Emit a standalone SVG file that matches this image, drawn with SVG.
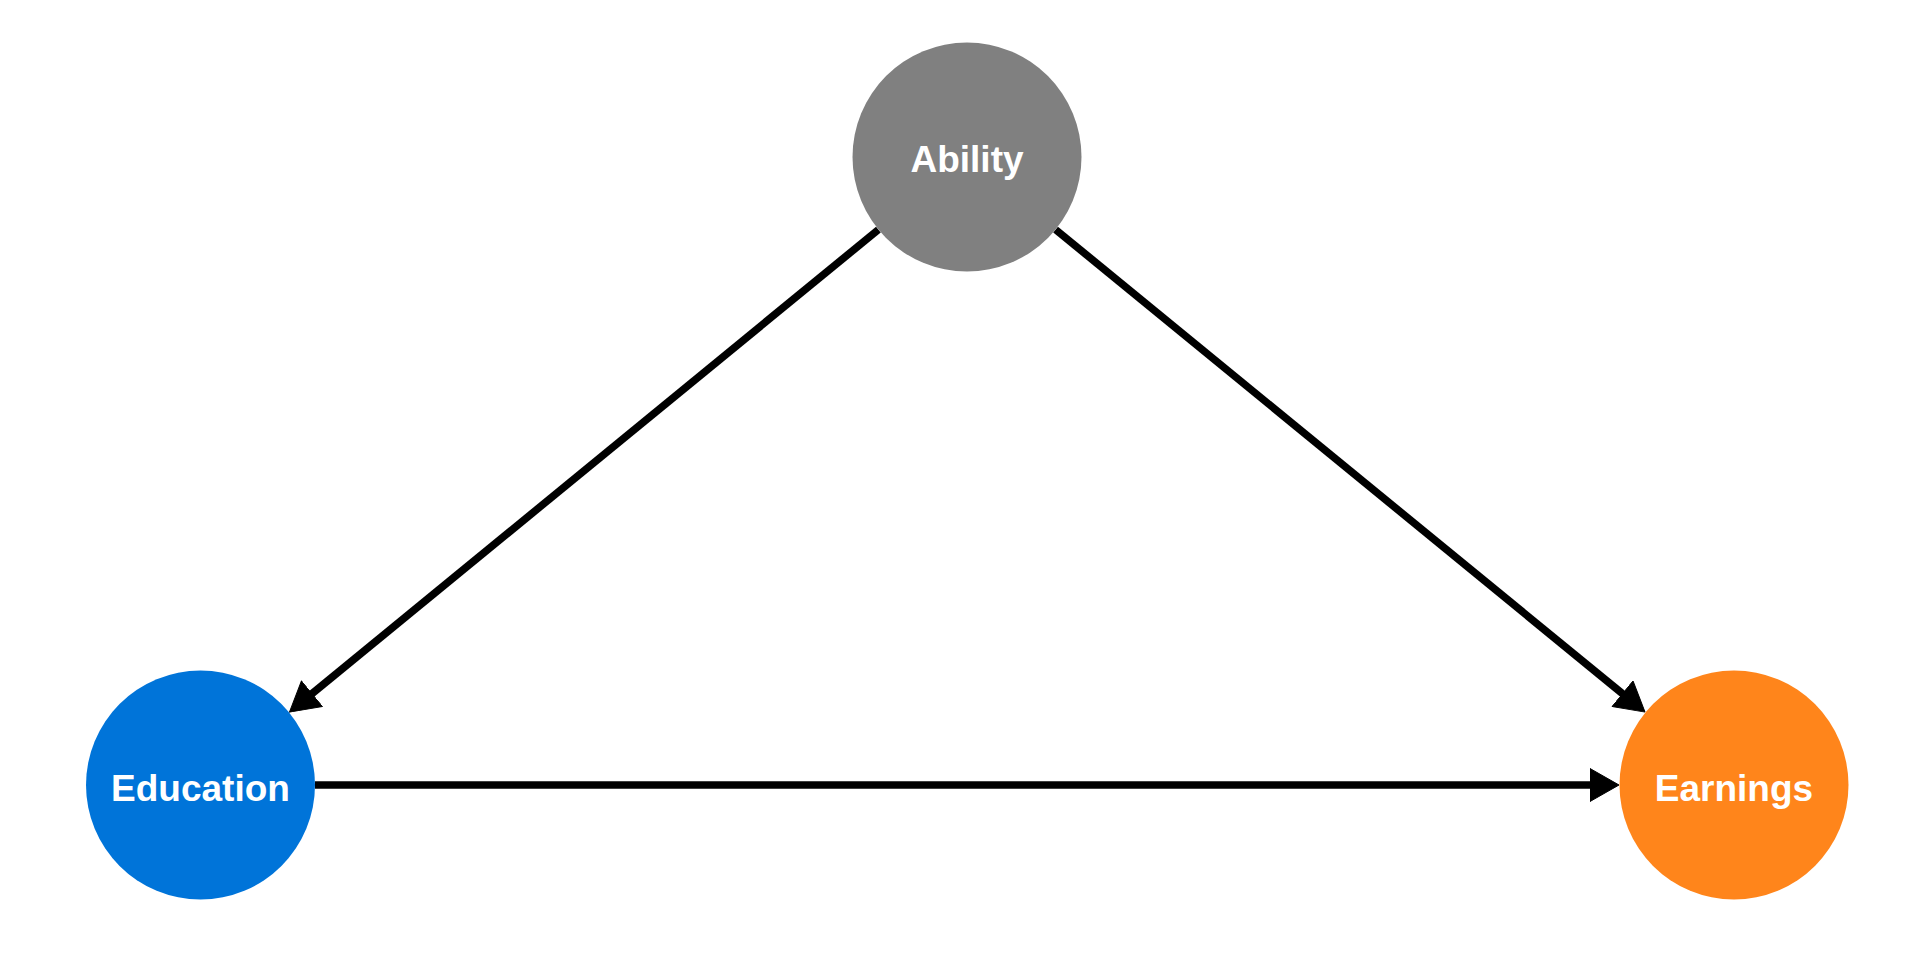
<svg xmlns="http://www.w3.org/2000/svg" width="1920" height="960" viewBox="0 0 1920 960">
  <style>
    .lbl { font-family: "Liberation Sans", Arial, sans-serif; font-weight: bold; font-size: 37px; fill: #FFFFFF; text-anchor: middle; }
    .edge { stroke: #000000; stroke-width: 7.5; fill: none; marker-end: url(#arrow); }
  </style>
  <defs>
    <marker id="arrow" markerUnits="userSpaceOnUse" viewBox="0 0 30 34" markerWidth="30" markerHeight="34" refX="8" refY="17" orient="auto">
      <path d="M0.5,0.5 L29.5,17 L0.5,33.5 Z" fill="#000000" stroke="#000000" stroke-width="1" stroke-linejoin="round"/>
    </marker>
  </defs>
  <rect width="1920" height="960" fill="#FFFFFF"/>
  <g id="connectors">
    <line class="edge" x1="878.4" y1="229.6" x2="306.1" y2="698.5"/>
    <line class="edge" x1="1055.6" y1="229.6" x2="1628.4" y2="698.5"/>
    <line class="edge" x1="315" y1="785" x2="1597.5" y2="785"/>
  </g>
  <g id="node-ability">
    <circle cx="967" cy="157" r="114.5" fill="#808080"/>
    <text class="lbl" x="967" y="172">Ability</text>
  </g>
  <g id="node-education">
    <circle cx="200.5" cy="785" r="114.5" fill="#0074D9"/>
    <text class="lbl" x="200.5" y="800.5">Education</text>
  </g>
  <g id="node-earnings">
    <circle cx="1734" cy="785" r="114.5" fill="#FF851B"/>
    <text class="lbl" x="1734" y="800.5">Earnings</text>
  </g>
</svg>
